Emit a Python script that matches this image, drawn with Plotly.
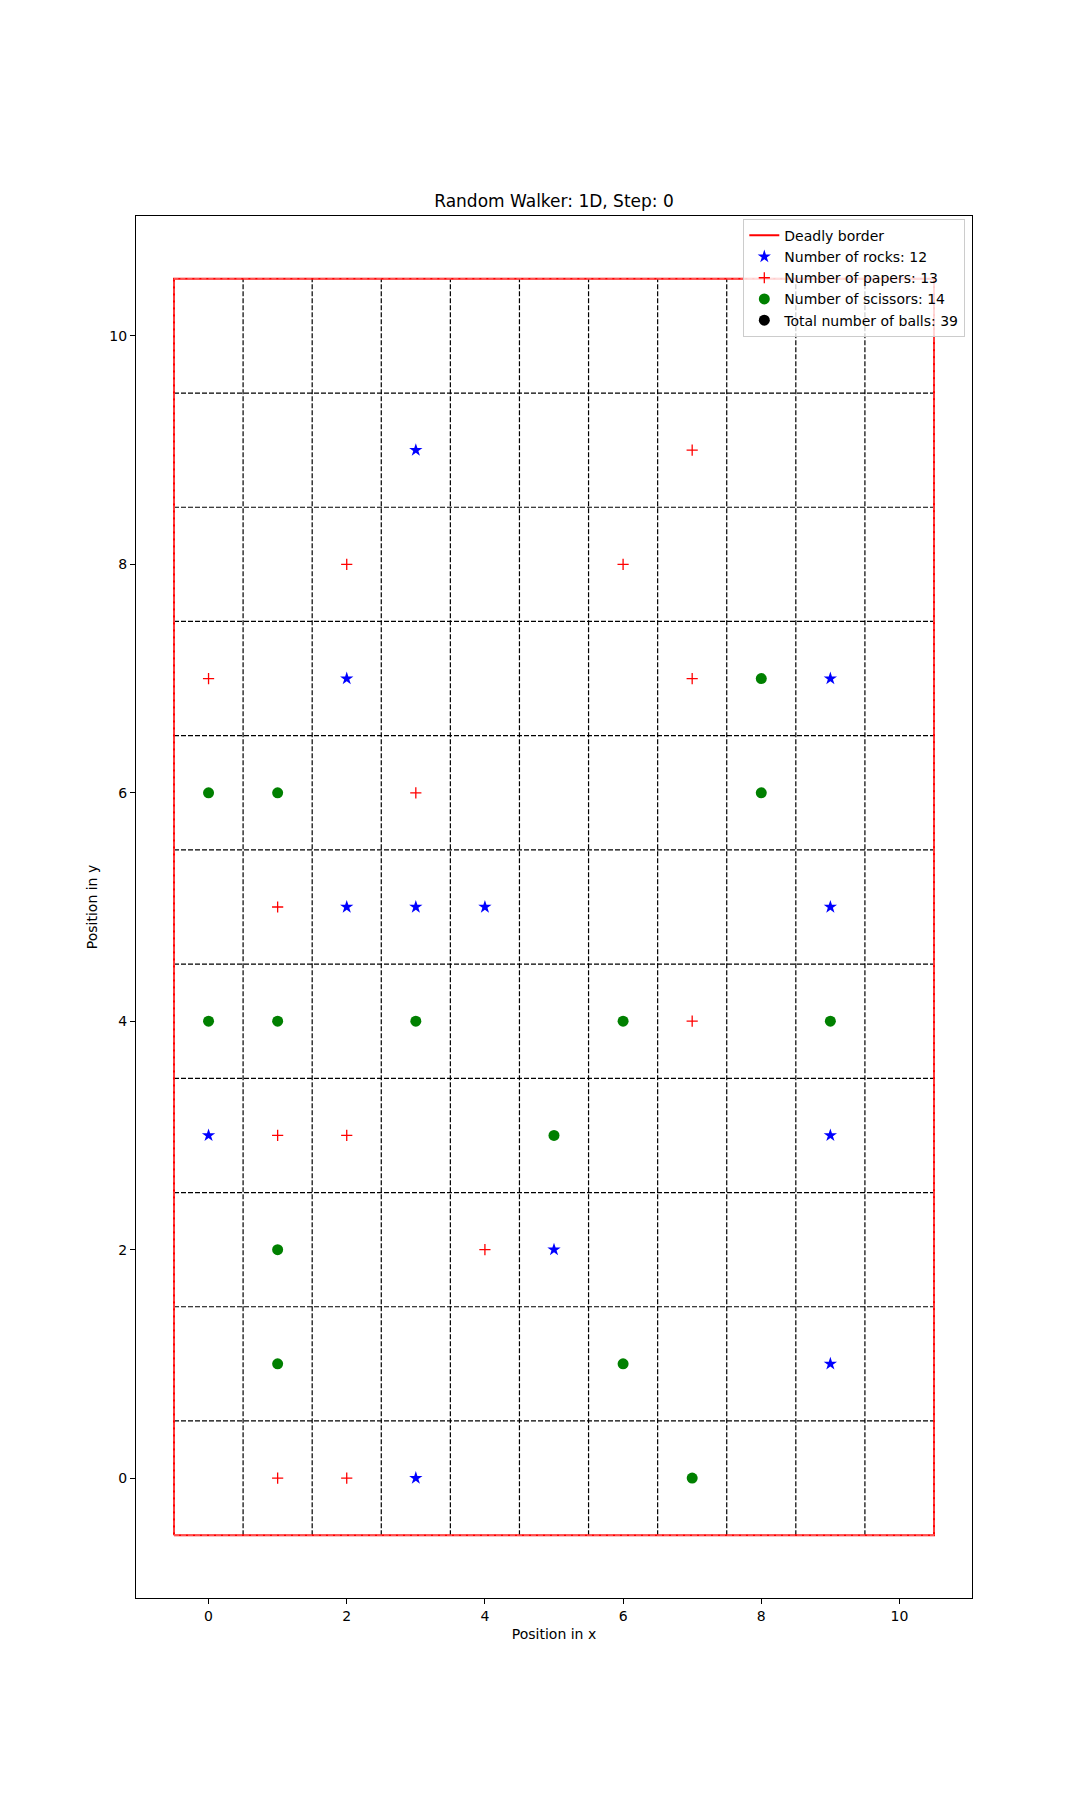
import plotly.graph_objects as go

# Data
rocks_x = [3, 2, 9, 2, 3, 4, 9, 0, 9, 5, 9, 3]
rocks_y = [9, 7, 7, 5, 5, 5, 5, 3, 3, 2, 1, 0]
papers_x = [7, 2, 6, 0, 7, 3, 1, 7, 1, 2, 4, 1, 2]
papers_y = [9, 8, 8, 7, 7, 6, 5, 4, 3, 3, 2, 0, 0]
scissors_x = [8, 0, 1, 8, 0, 1, 3, 6, 9, 5, 1, 1, 6, 7]
scissors_y = [7, 6, 6, 6, 4, 4, 4, 4, 4, 3, 2, 1, 1, 0]
border_lo, border_hi = -0.5, 10.5
grid_pos = [0.5, 1.5, 2.5, 3.5, 4.5, 5.5, 6.5, 7.5, 8.5, 9.5]
tick_vals = [0, 2, 4, 6, 8, 10]
title = "Random Walker: 1D, Step: 0"

FONT = "DejaVu Sans"
fig = go.Figure()

# dashed grid
gx, gy = [], []
for p in grid_pos:
    gx += [p, p, None]
    gy += [border_lo, border_hi, None]
    gx += [border_lo, border_hi, None]
    gy += [p, p, None]
fig.add_trace(go.Scatter(x=gx, y=gy, mode="lines", showlegend=False, hoverinfo="skip",
                         line=dict(color="black", width=1.2, dash="5px,2px")))

# deadly border
bx = [border_lo, border_hi, border_hi, border_lo, border_lo]
by = [border_lo, border_lo, border_hi, border_hi, border_lo]
fig.add_trace(go.Scatter(x=bx, y=by, mode="lines", name="Deadly border",
                         line=dict(color="red", width=2)))
fig.add_trace(go.Scatter(x=bx, y=by, mode="lines", showlegend=False, hoverinfo="skip",
                         line=dict(color="rgba(255,190,190,0.9)", width=0.7, dash="5px,2px")))

fig.add_trace(go.Scatter(x=rocks_x, y=rocks_y, mode="markers",
                         name=f"Number of rocks: {len(rocks_x)}",
                         marker=dict(symbol="star", color="blue", size=10)))
fig.add_trace(go.Scatter(x=papers_x, y=papers_y, mode="markers",
                         name=f"Number of papers: {len(papers_x)}",
                         marker=dict(symbol="cross-thin", color="red", size=8,
                                     line=dict(color="red", width=1.3))))
fig.add_trace(go.Scatter(x=scissors_x, y=scissors_y, mode="markers",
                         name=f"Number of scissors: {len(scissors_x)}",
                         marker=dict(symbol="circle", color="green", size=11)))
total = len(rocks_x) + len(papers_x) + len(scissors_x)
fig.add_trace(go.Scatter(x=[None], y=[None], mode="markers",
                         name=f"Total number of balls: {total}",
                         marker=dict(symbol="circle", color="black", size=11)))

axis_common = dict(showgrid=False, zeroline=False, showline=True, linecolor="black",
                   linewidth=1.2, mirror=True, ticks="outside", ticklen=5, tickwidth=1,
                   tickcolor="black", tickvals=tick_vals,
                   tickfont=dict(family=FONT, size=14, color="black"))
fig.update_xaxes(range=[-1.05, 11.05],
                 title=dict(text="Position in x", font=dict(family=FONT, size=14, color="black"), standoff=6),
                 **axis_common)
fig.update_yaxes(range=[-1.05, 11.05],
                 title=dict(text="Position in y", font=dict(family=FONT, size=14, color="black"), standoff=8),
                 **axis_common)

fig.update_layout(
    width=1080, height=1796,
    margin=dict(l=128, r=116, t=208, b=206),
    plot_bgcolor="white", paper_bgcolor="white",
    font=dict(family=FONT, size=14, color="black"),
    title=dict(text=title, x=0.5, xref="paper", xanchor="center",
               y=1 - 193 / 1796, yanchor="middle",
               font=dict(family=FONT, size=17, color="black")),
    legend=dict(x=0.992, y=0.998, xanchor="right", yanchor="top",
                bgcolor="rgba(255,255,255,0.8)", bordercolor="#cccccc", borderwidth=1,
                font=dict(family=FONT, size=14, color="black"),
                tracegroupgap=0, itemwidth=30),
)

fig.write_html("out.html")
